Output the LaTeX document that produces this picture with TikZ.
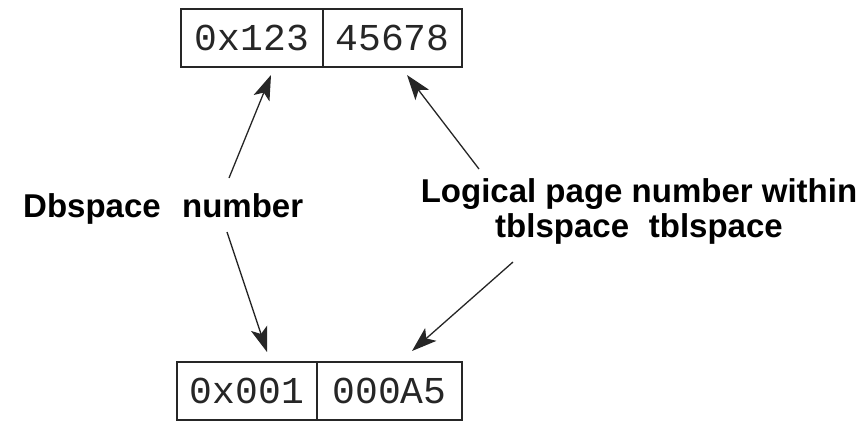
\documentclass[tikz,border=0pt]{standalone}
\usepackage{fontspec}
\setmainfont{Liberation Sans}
\setmonofont{Liberation Mono}
\usetikzlibrary{arrows.meta,positioning}

\begin{document}
\begin{tikzpicture}[x=1pt,y=-1pt,
  cell/.style={draw=black!85,line width=1.4pt,outer sep=0pt,inner sep=0pt,minimum height=58pt,
    text=black!85,font=\fontsize{38}{38}\selectfont\ttfamily},
  lbl/.style={inner sep=0pt,align=center,font=\fontsize{33}{35}\selectfont\bfseries},
  arr/.style={-{Stealth[length=25pt,width=17pt,inset=6pt]},line width=1.3pt,color=black!85}]
  \useasboundingbox (0,0) rectangle (865,431);
  % the two addresses
  \node[cell,minimum width=142pt] (tl) at (252,38) {0x123};
  \node[cell,minimum width=139pt,right=0pt of tl] (tr) {45678};
  \node[cell,minimum width=140pt] (bl) at (247,391) {0x001};
  \node[cell,minimum width=145pt,right=0pt of bl] (br) {000A5};
  % labels
  \node[lbl,anchor=base west] (dbs) at (23,217) {Dbspace\hspace{0.65em}number};
  \node[lbl,anchor=north] (lpn) at (639,178) {Logical page number within\\tblspace\hspace{0.6em}tblspace};
  \coordinate (dbsup) at (229,178);
  \coordinate (dbsdn) at (227,232);
  \coordinate (lpnup) at (479,169);
  \coordinate (lpndn) at (513,262);
  \path[arr]
  (dbsup) edge ([xshift=19pt,yshift=-8pt]tl.south)
  (dbsdn) edge ([xshift=20pt,yshift=10pt]bl.north)
  (lpnup) edge ([xshift=14.5pt,yshift=-8pt]tr.south)
  (lpndn) edge ([xshift=22.5pt,yshift=11pt]br.north);
\end{tikzpicture}
\end{document}
